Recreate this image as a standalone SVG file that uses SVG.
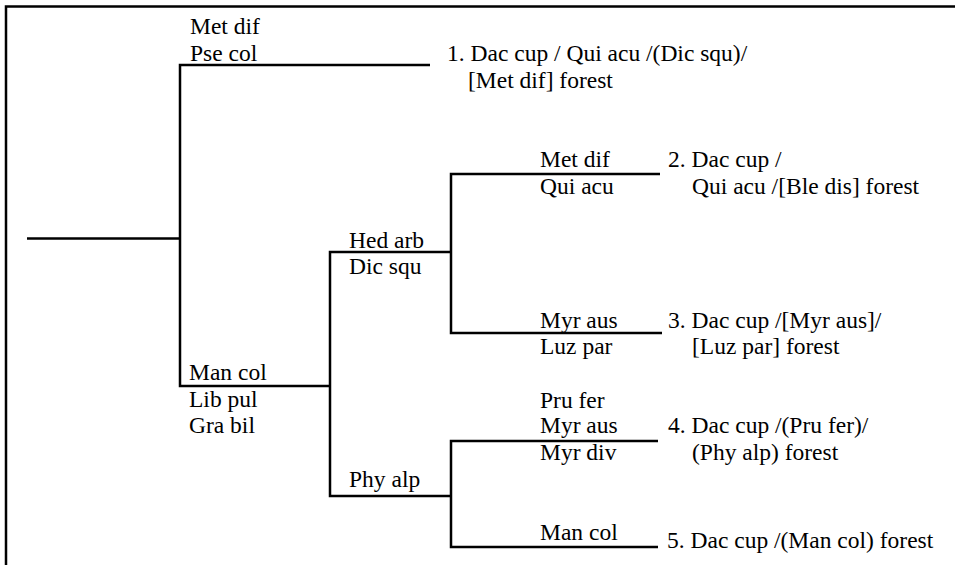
<svg xmlns="http://www.w3.org/2000/svg" width="955" height="565" viewBox="0 0 955 565">
<style>
.ln{fill:none;stroke:#000;stroke-width:2.5;stroke-linecap:butt}
.t text{font-size:23.5px;fill:#000}
</style>
<rect width="955" height="565" fill="#fff"/>
<path class="ln" d="M6,565 V6.5 H955"/>
<g id="connectors">
<path class="ln" d="M27,238.5 H180"/>
<path class="ln" d="M430,65 H180 V386 H330"/>
<path class="ln" d="M451,252 H330 V496 H451"/>
<path class="ln" d="M660,174 H451 V333 H662"/>
<path class="ln" d="M658,441 H451 V547 H658"/>
</g>
<g class="t" font-family="Liberation Serif, Times New Roman, DejaVu Serif, serif">
<g id="n_root_top"><text x="190" y="34">Met dif</text><text x="190" y="61">Pse col</text></g>
<g id="n_man"><text x="189" y="380">Man col</text><text x="189" y="407">Lib pul</text><text x="189" y="433">Gra bil</text></g>
<g id="n_hed"><text x="349" y="248">Hed arb</text><text x="349" y="274">Dic squ</text></g>
<g id="n_phy"><text x="349" y="487">Phy alp</text></g>
<g id="n_b2"><text x="540" y="167">Met dif</text><text x="540" y="194">Qui acu</text></g>
<g id="n_b3"><text x="540" y="328">Myr aus</text><text x="540" y="354">Luz par</text></g>
<g id="n_b4"><text x="540" y="408">Pru fer</text><text x="540" y="433">Myr aus</text><text x="540" y="460">Myr div</text></g>
<g id="n_b5"><text x="540" y="540">Man col</text></g>
<g id="leaf1"><text x="447" y="61">1. Dac cup / Qui acu /(Dic squ)/</text><text x="468" y="88">[Met dif] forest</text></g>
<g id="leaf2"><text x="668" y="167">2. Dac cup /</text><text x="692" y="194">Qui acu /[Ble dis] forest</text></g>
<g id="leaf3"><text x="668" y="328">3. Dac cup /[Myr aus]/</text><text x="692" y="354">[Luz par] forest</text></g>
<g id="leaf4"><text x="668" y="433">4. Dac cup /(Pru fer)/</text><text x="692" y="460">(Phy alp) forest</text></g>
<g id="leaf5"><text x="667" y="548">5. Dac cup /(Man col) forest</text></g>
</g>
</svg>
